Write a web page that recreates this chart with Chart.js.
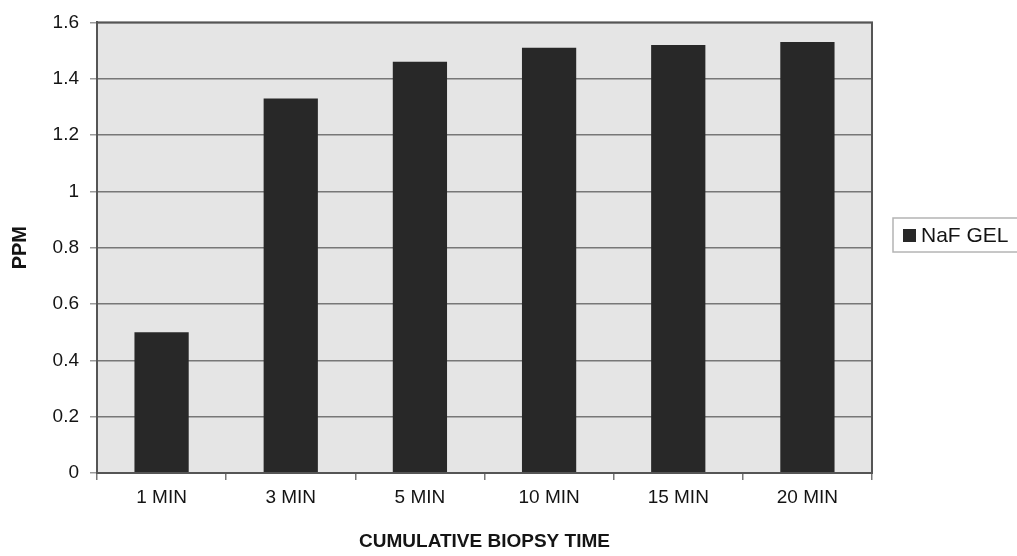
<!DOCTYPE html>
<html>
<head>
<meta charset="utf-8">
<script src="https://cdn.jsdelivr.net/npm/chart.js@4/dist/chart.umd.min.js"></script>
<style>
  html, body { margin: 0; padding: 0; background: #ffffff; }
  #wrap { width: 1017px; height: 556px; position: relative; }
</style>
</head>
<body>
<div id="wrap"><canvas id="c" width="1017" height="556"></canvas></div>
<script>
// Fluoride concentration by cumulative biopsy time
const categories = ['1 MIN', '3 MIN', '5 MIN', '10 MIN', '15 MIN', '20 MIN'];
const seriesName = 'NaF GEL';
const ppmValues = [0.50, 1.33, 1.46, 1.51, 1.52, 1.53];
const yTicks = [0, 0.2, 0.4, 0.6, 0.8, 1, 1.2, 1.4, 1.6];

const FONT = "'Liberation Sans', Arial, Helvetica, sans-serif";
const INK = '#141414';
const BAR = '#282828';
const GRID = '#777777';
const FRAME = '#555555';

// Grey plot background and frame around the plotting area
const plotFrame = {
  id: 'plotFrame',
  beforeDraw(chart) {
    const { ctx, chartArea: a } = chart;
    ctx.save();
    ctx.fillStyle = '#e5e5e5';
    ctx.fillRect(a.left, a.top, a.right - a.left, a.bottom - a.top);
    ctx.restore();
  },
  afterDraw(chart) {
    const { ctx, chartArea: a } = chart;
    ctx.save();
    ctx.strokeStyle = FRAME;
    ctx.lineWidth = 2;
    ctx.strokeRect(a.left, a.top, a.right - a.left, a.bottom - a.top);
    ctx.restore();
  }
};

// Boxed legend to the right of the plot
const boxedLegend = {
  id: 'boxedLegend',
  afterDraw(chart) {
    const { ctx } = chart;
    const ds = chart.data.datasets[0];
    const x = 893, y = 218, w = 140, h = 34;
    ctx.save();
    ctx.fillStyle = '#ffffff';
    ctx.fillRect(x, y, w, h);
    ctx.strokeStyle = '#b4b4b4';
    ctx.lineWidth = 1.5;
    ctx.strokeRect(x, y, w, h);
    ctx.fillStyle = ds.backgroundColor;
    ctx.fillRect(x + 10, y + 11, 13, 13);
    ctx.fillStyle = INK;
    ctx.font = '21px ' + FONT;
    ctx.textBaseline = 'middle';
    ctx.textAlign = 'left';
    ctx.fillText(ds.label, x + 28, y + h / 2 + 1);
    ctx.restore();
  }
};

new Chart(document.getElementById('c'), {
  type: 'bar',
  data: {
    labels: categories,
    datasets: [{
      label: seriesName,
      data: ppmValues,
      backgroundColor: BAR,
      borderWidth: 0,
      categoryPercentage: 1.0,
      barPercentage: 0.42
    }]
  },
  options: {
    responsive: false,
    animation: false,
    devicePixelRatio: 1,
    layout: { padding: { left: 0, right: 145, top: 17, bottom: 0 } },
    plugins: {
      legend: { display: false },
      tooltip: { enabled: false }
    },
    scales: {
      x: {
        afterFit(scale) { scale.height = 83; },
        grid: {
          offset: true,
          drawOnChartArea: false,
          drawTicks: true,
          tickLength: 7,
          color: GRID,
          lineWidth: 1.5
        },
        border: { display: true, color: FRAME, width: 2 },
        ticks: {
          color: INK,
          padding: 6,
          font: { family: FONT, size: 19 },
          maxRotation: 0
        },
        title: {
          display: true,
          text: 'CUMULATIVE BIOPSY TIME',
          color: INK,
          font: { family: FONT, size: 19, weight: 'bold' },
          padding: { top: 4, bottom: 3 }
        }
      },
      y: {
        min: 0,
        max: 1.6,
        afterFit(scale) { scale.width = 97; },
        afterBuildTicks(scale) { scale.ticks = yTicks.map(v => ({ value: v })); },
        grid: {
          color: GRID,
          lineWidth: 1.5,
          drawTicks: true,
          tickLength: 7,
          tickColor: '#9a9a9a'
        },
        border: { display: true, color: FRAME, width: 2 },
        ticks: {
          color: INK,
          padding: 11,
          font: { family: FONT, size: 19 },
          callback: v => String(v)
        },
        title: {
          display: true,
          text: 'PPM',
          color: INK,
          font: { family: FONT, size: 20, weight: 'bold' },
          padding: { top: 8, bottom: 0 }
        }
      }
    }
  },
  plugins: [plotFrame, boxedLegend]
});
</script>
</body>
</html>
